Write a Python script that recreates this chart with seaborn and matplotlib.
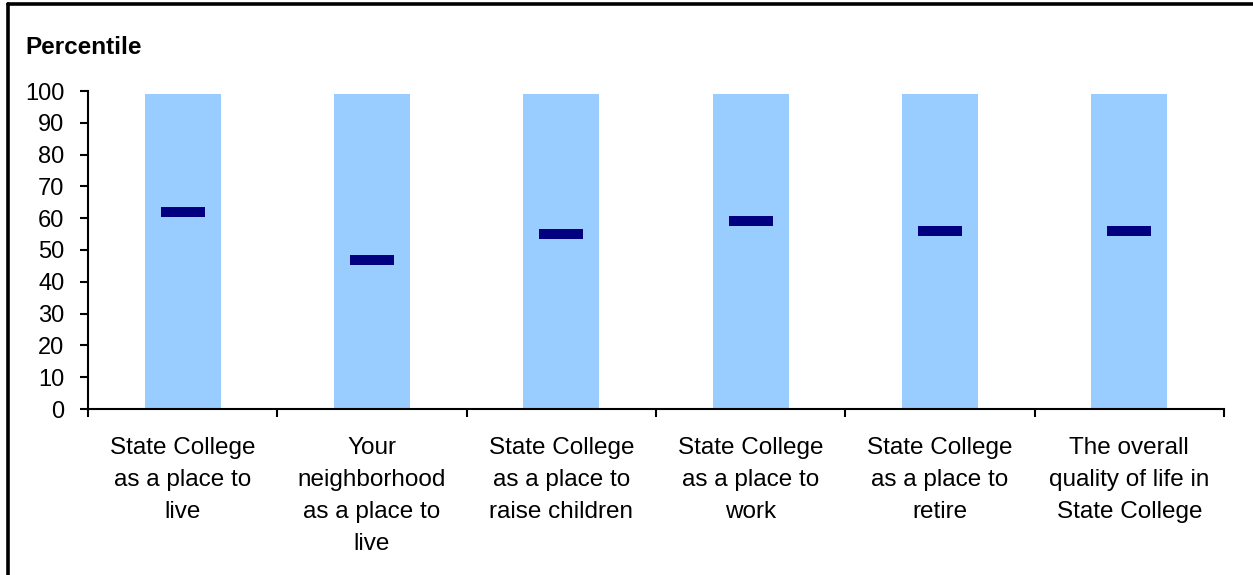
import matplotlib
matplotlib.use("Agg")
import matplotlib.pyplot as plt
from matplotlib.lines import Line2D
import seaborn as sns
import pandas as pd
import numpy as np

categories = [
    "State College\nas a place to\nlive",
    "Your\nneighborhood\nas a place to\nlive",
    "State College\nas a place to\nraise children",
    "State College\nas a place to\nwork",
    "State College\nas a place to\nretire",
    "The overall\nquality of life in\nState College",
]
range_top = [99, 99, 99, 99, 99, 99]
percentile = [62, 47, 55, 59, 56, 56]
y_ticks = [0, 10, 20, 30, 40, 50, 60, 70, 80, 90, 100]

sns.set_theme(style="white")
plt.rcParams["font.family"] = ["Liberation Sans", "DejaVu Sans"]
plt.rcParams["text.color"] = "black"

df = pd.DataFrame({"cat": categories, "top": range_top, "pct": percentile})

fig = plt.figure(figsize=(12.53, 5.75), dpi=100)
ax = fig.add_axes([88 / 1253, 1 - 409 / 575, (1224 - 88) / 1253, 318 / 575])

sns.barplot(data=df, x="cat", y="top", color="#99CCFF", saturation=1,
            width=0.40, ax=ax, edgecolor="none")
sns.scatterplot(data=df, x="cat", y="pct", marker="_", s=31 ** 2,
                linewidth=7.2, color="#000080", ax=ax, legend=False)

ax.set_ylim(0, 100)
ax.set_xlim(-0.5, len(categories) - 0.5)
ax.set_yticks(y_ticks)
ax.set_yticklabels([str(t) for t in y_ticks], fontsize=17, color="black")

# category boundaries carry the tick marks, centres carry the labels
ax.set_xticks(np.arange(len(categories) + 1) - 0.5)
ax.set_xticklabels([])
ax.set_xticks(np.arange(len(categories)), minor=True)
ax.set_xticklabels(categories, minor=True, fontsize=17.5, color="black",
                   linespacing=1.6)
ax.tick_params(axis="x", which="major", direction="out", length=6, width=1.5,
               color="black", bottom=True)
ax.tick_params(axis="x", which="minor", length=0, pad=20, bottom=True)
ax.tick_params(axis="y", direction="out", length=6, width=1.5, color="black",
               left=True, pad=11)
ax.set_xlabel("")
ax.set_ylabel("")

for side in ["top", "right"]:
    ax.spines[side].set_visible(False)
for side in ["left", "bottom"]:
    ax.spines[side].set_color("black")
    ax.spines[side].set_linewidth(1.5)

fig.text(25 / 1253, 1 - 54.3 / 575, "Percentile", fontsize=17.5, fontweight="bold",
         va="baseline", ha="left", color="black")

# outer frame
fig.add_artist(Line2D([8 / 1253, 8 / 1253], [0, 1 - 4.3 / 575], transform=fig.transFigure,
                      color="black", linewidth=2.6))
fig.add_artist(Line2D([8 / 1253, 1], [1 - 4.3 / 575, 1 - 4.3 / 575], transform=fig.transFigure,
                      color="black", linewidth=2.6))

fig.savefig("out.png", dpi=100, facecolor="white")
